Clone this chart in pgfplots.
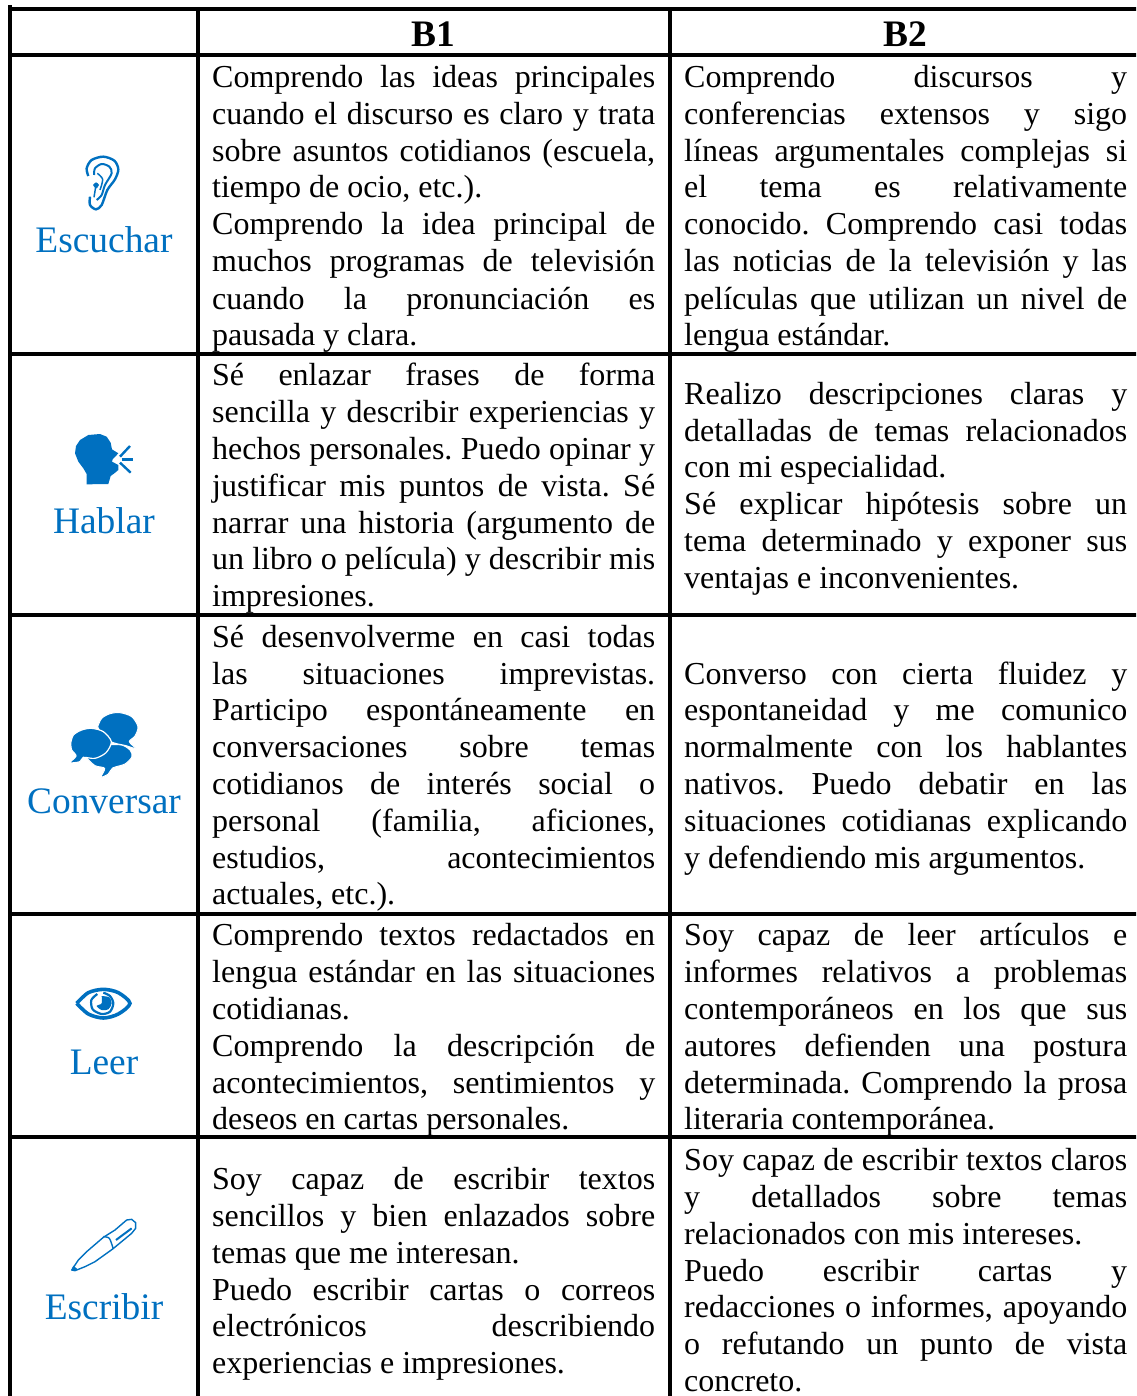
\documentclass[border=0pt]{standalone}
\usepackage{fontspec}
\setmainfont{Liberation Serif}
\usepackage{pgfplots}
\pgfplotsset{compat=1.18}
\definecolor{wblue}{HTML}{0070C0}
\newcommand\J[3]{\node[anchor=base west,inner sep=0pt] at (axis cs:#1,#2) {\makebox[443pt][s]{#3}};}
\newcommand\T[3]{\node[anchor=base west,inner sep=0pt] at (axis cs:#1,#2) {#3};}
\newcommand\LB[2]{\node[anchor=base,inner sep=0pt,text=wblue] at (axis cs:104,#1) {\fontsize{37.4}{37}\selectfont #2};}
\newcommand\HB[2]{\node[anchor=base,inner sep=0pt] at (axis cs:#1,47) {\fontsize{37.4}{37}\selectfont\bfseries #2};}
\pgfplotsset{
  rule/.style={black,line width=4pt,no markers,line cap=rect},
  zoomed/.style 2 args={x filter/.expression={#1+x/3},y filter/.expression={#2+y/3},no markers},
}
\begin{document}
\frenchspacing
\begin{tikzpicture}
\useasboundingbox (0,0) rectangle (1136pt,1396pt);
\begin{axis}[
  width=1136pt,height=1396pt,scale only axis,at={(0,0)},anchor=south west,
  xmin=0,xmax=1136,ymin=0,ymax=1396,y dir=reverse,
  hide axis,clip=true,
]
% ear
\addplot[zoomed={20}{140},wblue,line width=2.4pt,smooth] coordinates {(210,170) (210,195) (228,208) (245,195) (262,150) (285,118) (295,88) (283,62) (250,50) (215,60) (200,85) (205,108)};
\addplot[zoomed={20}{140},wblue,line width=2pt,smooth] coordinates {(222,105) (225,85) (245,72) (268,80) (275,100) (255,135) (245,165) (230,180)};
\addplot[zoomed={20}{140},wblue,line width=1.5pt,smooth] coordinates {(232,100) (248,118) (240,150)};
\addplot[zoomed={20}{140},wblue,line width=1.5pt] coordinates {(228,135) (222,172)};
\addplot[zoomed={20}{140},wblue,fill=wblue,smooth] coordinates {(220,135) (228,128) (236,135) (228,145) (220,135)};
% head
\addplot[zoomed={20}{420},draw=none,fill=wblue] coordinates {(200,193) (200,162) (190,145) (175,125) (165,100) (168,78) (180,60) (205,45) (240,42) (260,50) (272,68) (276,88) (295,100) (278,118) (276,125) (295,135) (295,150) (283,160) (272,168) (265,192)} --cycle;
\addplot[zoomed={20}{420},wblue,line width=2.4pt] coordinates {(300,110) (330,78)};
\addplot[zoomed={20}{420},wblue,line width=2.4pt] coordinates {(305,118) (338,118)};
\addplot[zoomed={20}{420},wblue,line width=2.4pt] coordinates {(300,128) (332,158)};
% bubbles
\addplot[zoomed={20}{700},white,line width=1pt,fill=wblue,smooth] coordinates {(198,172) (225,148) (265,135) (305,135) (330,150) (336,170) (315,192) (278,204) (265,222) (243,231) (254,205) (225,197) (198,172)};
\addplot[zoomed={20}{700},white,line width=1pt,fill=wblue,smooth] coordinates {(233,80) (245,55) (270,41) (300,38) (335,50) (354,80) (345,108) (328,125) (348,146) (318,137) (280,128) (250,110) (233,80)};
\addplot[zoomed={20}{700},white,line width=1.2pt,fill=wblue,smooth] coordinates {(152,130) (160,105) (185,90) (215,85) (250,95) (274,125) (258,158) (225,175) (190,172) (180,185) (150,188) (168,168) (155,150) (152,130)};
% eye
\addplot[zoomed={20}{970},wblue,line width=3.6pt,smooth,tension=0.5] coordinates {(170,100) (205,68) (250,58) (295,68) (330,100) (295,132) (250,144) (205,132) (170,100)};
\addplot[zoomed={20}{970},wblue,line width=2.2pt,smooth] coordinates {(232,72) (214,90) (218,118) (245,132) (270,125) (280,100) (270,78) (250,68)};
\addplot[zoomed={20}{970},draw=none,fill=wblue,smooth] coordinates {(245,78) (268,82) (275,100) (265,118) (245,120) (230,108) (245,100) (245,78)};
% pen
\addplot[zoomed={20}{1200},wblue,line width=1.4pt] coordinates {(155,210) (175,180) (200,155) (250,112) (285,90) (320,60) (335,58) (347,68) (347,85) (335,100) (278,147) (225,185) (195,200) (165,212) (155,210)};
\addplot[zoomed={20}{1200},wblue,line width=1.4pt,smooth] coordinates {(250,110) (268,115) (280,147)};
\addplot[zoomed={20}{1200},wblue,line width=2pt] coordinates {(288,120) (335,85)};
\addplot[zoomed={20}{1200},wblue,fill=wblue] coordinates {(155,212) (160,198) (172,208)} --cycle;
% text
\fontsize{32}{37}\selectfont
\HB{433}{B1}
\HB{905}{B2}
\LB{253}{Escuchar}
\LB{533}{Hablar}
\LB{813}{Conversar}
\LB{1074}{Leer}
\LB{1319}{Escribir}
\J{212}{88}{Comprendo las ideas principales}
\J{212}{125}{cuando el discurso es claro y trata}
\J{212}{162}{sobre asuntos cotidianos (escuela,}
\T{212}{198}{tiempo de ocio, etc.).}
\J{212}{235}{Comprendo la idea principal de}
\J{212}{272}{muchos programas de televisión}
\J{212}{309}{cuando la pronunciación es}
\T{212}{345}{pausada y clara.}
\J{684}{88}{Comprendo discursos y}
\J{684}{125}{conferencias extensos y sigo}
\J{684}{162}{líneas argumentales complejas si}
\J{684}{198}{el tema es relativamente}
\J{684}{235}{conocido. Comprendo casi todas}
\J{684}{272}{las noticias de la televisión y las}
\J{684}{309}{películas que utilizan un nivel de}
\T{684}{345}{lengua estándar.}
\J{212}{385}{Sé enlazar frases de forma}
\J{212}{422}{sencilla y describir experiencias y}
\J{212}{459}{hechos personales. Puedo opinar y}
\J{212}{496}{justificar mis puntos de vista. Sé}
\J{212}{533}{narrar una historia (argumento de}
\J{212}{569}{un libro o película) y describir mis}
\T{212}{606}{impresiones.}
\J{684}{404}{Realizo descripciones claras y}
\J{684}{441}{detalladas de temas relacionados}
\T{684}{477}{con mi especialidad.}
\J{684}{514}{Sé explicar hipótesis sobre un}
\J{684}{551}{tema determinado y exponer sus}
\T{684}{588}{ventajas e inconvenientes.}
\J{212}{647}{Sé desenvolverme en casi todas}
\J{212}{684}{las situaciones imprevistas.}
\J{212}{720}{Participo espontáneamente en}
\J{212}{757}{conversaciones sobre temas}
\J{212}{794}{cotidianos de interés social o}
\J{212}{831}{personal (familia, aficiones,}
\J{212}{868}{estudios, acontecimientos}
\T{212}{904}{actuales, etc.).}
\J{684}{684}{Converso con cierta fluidez y}
\J{684}{720}{espontaneidad y me comunico}
\J{684}{757}{normalmente con los hablantes}
\J{684}{794}{nativos. Puedo debatir en las}
\J{684}{831}{situaciones cotidianas explicando}
\T{684}{868}{y defendiendo mis argumentos.}
\J{212}{945}{Comprendo textos redactados en}
\J{212}{982}{lengua estándar en las situaciones}
\T{212}{1019}{cotidianas.}
\J{212}{1056}{Comprendo la descripción de}
\J{212}{1093}{acontecimientos, sentimientos y}
\T{212}{1129}{deseos en cartas personales.}
\J{684}{945}{Soy capaz de leer artículos e}
\J{684}{982}{informes relativos a problemas}
\J{684}{1019}{contemporáneos en los que sus}
\J{684}{1056}{autores defienden una postura}
\J{684}{1093}{determinada. Comprendo la prosa}
\T{684}{1129}{literaria contemporánea.}
\J{212}{1189}{Soy capaz de escribir textos}
\J{212}{1226}{sencillos y bien enlazados sobre}
\T{212}{1263}{temas que me interesan.}
\J{212}{1300}{Puedo escribir cartas o correos}
\J{212}{1336}{electrónicos describiendo}
\T{212}{1373}{experiencias e impresiones.}
\J{684}{1170}{Soy capaz de escribir textos claros}
\J{684}{1207}{y detallados sobre temas}
\T{684}{1244}{relacionados con mis intereses.}
\J{684}{1281}{Puedo escribir cartas y}
\J{684}{1317}{redacciones o informes, apoyando}
\J{684}{1354}{o refutando un punto de vista}
\T{684}{1391}{concreto.}
% table rules
\addplot[rule] coordinates {(10,9) (1140,9)};
\addplot[rule] coordinates {(10,55) (1140,55)};
\addplot[rule] coordinates {(10,354) (1140,354)};
\addplot[rule] coordinates {(10,615) (1140,615)};
\addplot[rule] coordinates {(10,914) (1140,914)};
\addplot[rule] coordinates {(10,1137) (1140,1137)};
\addplot[rule] coordinates {(10,7) (10,1400)};
\addplot[rule] coordinates {(198,9) (198,1400)};
\addplot[rule] coordinates {(670,9) (670,1400)};
\end{axis}
\end{tikzpicture}
\end{document}
